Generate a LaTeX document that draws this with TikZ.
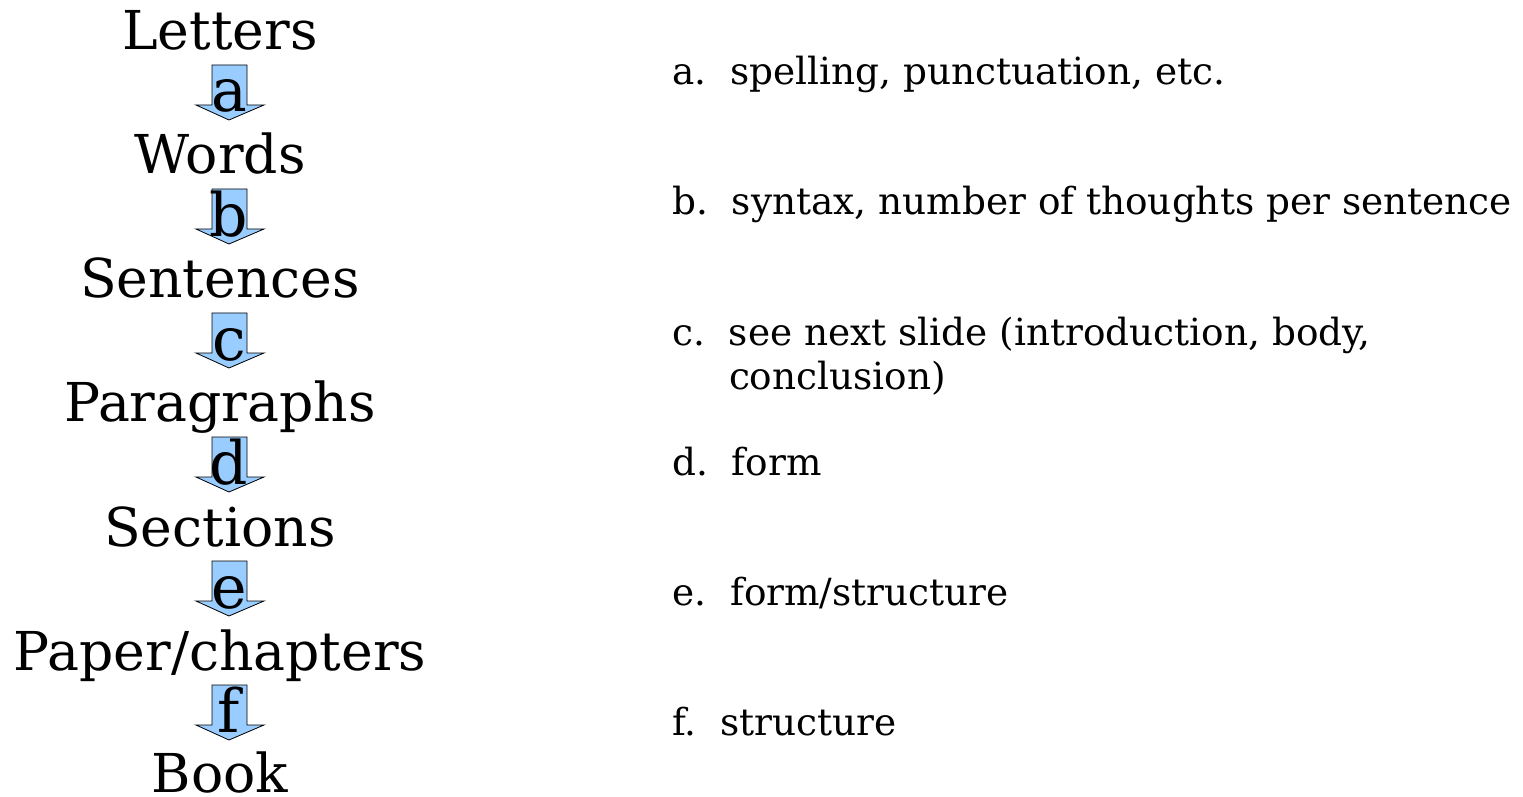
\documentclass[tikz,border=0pt]{standalone}
\usepackage{fontspec}
\setmainfont{DejaVu Serif}
\definecolor{arrowblue}{HTML}{99CCFF}
\tikzset{
  level/.style={anchor=base, inner sep=0pt, font=\fontsize{26.8}{32}\selectfont},
  blockarrow/.style={draw=black, fill=arrowblue, line width=0.4pt},
  arrowletter/.style={anchor=base, inner sep=0pt, font=\fontsize{30}{36}\selectfont},
  remark/.style={anchor=base west, inner sep=0pt, align=left, font=\fontsize{18.7}{22}\selectfont},
}
\begin{document}
\begin{tikzpicture}[x=0.5pt,y=-0.5pt]
\useasboundingbox (0,0) rectangle (1523,797);

% levels
\node[level] (letters) at (220,50) {Letters};
\node[level] (words) at (220,174) {Words};
\node[level] (sentences) at (220,298) {Sentences};
\node[level] (paragraphs) at (220,422) {Paragraphs};
\node[level] (sections) at (220,546) {Sections};
\node[level] (paper) at (220,670) {Paper/chapters};
\node[level] (book) at (220,792) {Book};

% block arrows
\draw[blockarrow] (212,65) -- ++(35,0) -- ++(0,40) -- ++(17,0) -- ++(-35,15) -- ++(-33,-15) -- ++(16,0) -- cycle;
\draw[blockarrow] (212,189) -- ++(35,0) -- ++(0,40) -- ++(17,0) -- ++(-35,15) -- ++(-33,-15) -- ++(16,0) -- cycle;
\draw[blockarrow] (212,313) -- ++(35,0) -- ++(0,40) -- ++(17,0) -- ++(-35,15) -- ++(-33,-15) -- ++(16,0) -- cycle;
\draw[blockarrow] (212,437) -- ++(35,0) -- ++(0,40) -- ++(17,0) -- ++(-35,15) -- ++(-33,-15) -- ++(16,0) -- cycle;
\draw[blockarrow] (212,561) -- ++(35,0) -- ++(0,40) -- ++(17,0) -- ++(-35,15) -- ++(-33,-15) -- ++(16,0) -- cycle;
\draw[blockarrow] (212,685) -- ++(35,0) -- ++(0,40) -- ++(17,0) -- ++(-35,15) -- ++(-33,-15) -- ++(16,0) -- cycle;

\node[arrowletter] (la) at (229,112) {a};
\node[arrowletter] (lb) at (229,236) {b};
\node[arrowletter] (lc) at (229,360) {c};
\node[arrowletter] (ld) at (229,484) {d};
\node[arrowletter] (le) at (229,608) {e};
\node[arrowletter] (lf) at (229,732) {f};

% remarks
\node[remark] (ra) at (672,85) {a.\ \ spelling, punctuation, etc.};
\node[remark] (rb) at (672,215) {b.\ \ syntax, number of thoughts per sentence};
\node[remark] (rc) at (672,345) {c.\ \ \begin{tabular}[t]{@{}l@{}}see next slide (introduction, body,\\conclusion)\end{tabular}};
\node[remark] (rd) at (672,475) {d.\ \ form};
\node[remark] (re) at (672,605) {e.\ \ form/structure};
\node[remark] (rf) at (672,735) {f.\ \ structure};
\end{tikzpicture}
\end{document}
